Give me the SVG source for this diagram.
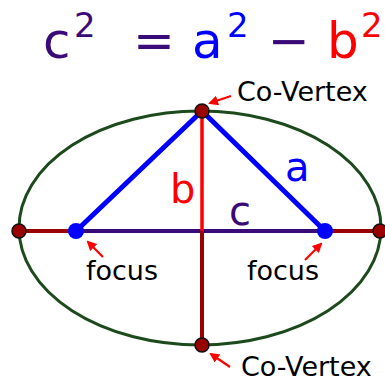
<svg xmlns="http://www.w3.org/2000/svg" width="385" height="381" viewBox="0 0 385 381">
<defs>
<style>
text{font-family:"DejaVu Sans","Verdana",sans-serif}
.eq{font-size:50px}
.sup{font-size:34px}
.lbl{font-size:40px}
.note{font-size:27px;fill:#000}
.arr{stroke:#ff0000;stroke-width:2.2;fill:none;marker-end:url(#ah)}
.vx{fill:#990000;stroke:#111;stroke-width:1.5}
.fo{fill:#0000ff}
</style>
<marker id="ah" viewBox="0 0 10 10" refX="8" refY="5" markerWidth="4.5" markerHeight="4.5" orient="auto">
<path d="M0,0 L10,5 L0,10 z" fill="#ff0000"/>
</marker>
</defs>
<rect width="385" height="381" fill="#fff"/>
<g id="equation">
<text class="eq" x="43" y="58" fill="#3a0a78">c</text>
<text class="sup" x="74" y="37" fill="#3a0a78">2</text>
<text class="eq" x="133" y="58" fill="#3a0a78">=</text>
<text class="eq" x="192" y="58" fill="#0000ff">a</text>
<text class="sup" x="227" y="37" fill="#0000ff">2</text>
<text class="eq" x="268" y="58" fill="#3a0a78">−</text>
<text class="eq" x="327" y="58" fill="#ff0000">b</text>
<text class="sup" x="361" y="37" fill="#ff0000">2</text>
</g>
<g id="ellipse">
<ellipse cx="200" cy="228" rx="181" ry="117" fill="none" stroke="#1c4a1c" stroke-width="3"/>
</g>
<g id="connectors">
<line x1="19" y1="231" x2="76" y2="231" stroke="#990000" stroke-width="4"/>
<line x1="325" y1="231" x2="380" y2="231" stroke="#990000" stroke-width="4"/>
<line x1="76" y1="231" x2="325" y2="231" stroke="#3a0a78" stroke-width="4"/>
<line x1="202" y1="231" x2="202" y2="345" stroke="#990000" stroke-width="4"/>
<line x1="202" y1="111" x2="202" y2="231" stroke="#ff0000" stroke-width="3.5"/>
<polyline points="76,231 202,111 325,231" fill="none" stroke="#0000ff" stroke-width="5" stroke-linejoin="round"/>
<line class="arr" x1="231" y1="96" x2="210" y2="103"/>
<line class="arr" x1="103" y1="257" x2="88" y2="242"/>
<line class="arr" x1="305" y1="260" x2="321" y2="244"/>
<line class="arr" x1="230" y1="367" x2="211" y2="354"/>
</g>
<g id="top-covertex">
<circle class="vx" cx="202" cy="111" r="7"/>
<text class="note" x="237" y="101">Co-Vertex</text>
</g>
<g id="bottom-covertex">
<circle class="vx" cx="202" cy="345" r="7"/>
<text class="note" x="241" y="376">Co-Vertex</text>
</g>
<g id="left-vertex"><circle class="vx" cx="19" cy="231" r="7"/></g>
<g id="right-vertex"><circle class="vx" cx="380" cy="231" r="7"/></g>
<g id="left-focus">
<circle class="fo" cx="76" cy="231" r="8"/>
<text class="note" x="86" y="280">focus</text>
</g>
<g id="right-focus">
<circle class="fo" cx="325" cy="231" r="8"/>
<text class="note" x="247" y="280">focus</text>
</g>
<g id="labels">
<text class="lbl" x="170" y="203" fill="#ff0000">b</text>
<text class="lbl" x="285" y="181" fill="#0000ff">a</text>
<text class="lbl" x="229" y="225" fill="#3a0a78">c</text>
</g>
</svg>
